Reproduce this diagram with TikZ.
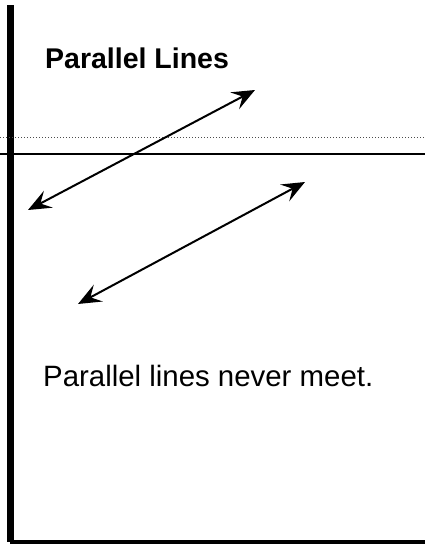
\documentclass[tikz,border=0pt]{standalone}
\usepackage{fontspec}
\setmainfont{Liberation Sans}
\usetikzlibrary{arrows.meta}

\begin{document}
\begin{tikzpicture}[
      x=1pt, y=-1pt,
      heading/.style={
          anchor=base west, inner sep=0pt,
          font=\fontsize{28.5}{32}\selectfont\bfseries
      },
      caption/.style={
          anchor=base west, inner sep=0pt,
          font=\fontsize{29.4}{33}\selectfont
      },
      parline/.style={
          line width=2pt,
          arrows={Stealth[length=23pt, width=19pt, inset=9pt]-Stealth[length=23pt, width=19pt, inset=9pt]}
      }
  ]
    \useasboundingbox (0,0) rectangle (425,546);

    % Frame (left and bottom edges)
    \coordinate (top) at (10,5);
    \coordinate (corner) at (10,542);
    \coordinate (right) at (425,542);
    \draw[line width=7pt] (top) -- (corner);
    \draw[line width=4pt] (corner) -- (right);

    % Horizontal reference lines
    \coordinate (h1l) at (0,154);
    \coordinate (h1r) at (425,154);
    \draw[line width=1.5pt] (h1l) -- (h1r);
    \coordinate (h2l) at (0,137);
    \coordinate (h2r) at (425,137);
    \draw[black!70, line width=1pt, dotted] (h2l) -- (h2r);

    % Texts
    \node[heading] (title) at (45,68) {Parallel Lines};
    \node[caption] (note) at (43,386) {Parallel lines never meet.};

    % First line
    \coordinate (a1) at (28,210);
    \coordinate (a2) at (255,90);
    \draw[parline] (a1) -- (a2);

    % Second line
    \coordinate (b1) at (78,304);
    \coordinate (b2) at (305,182);
    \draw[parline] (b1) -- (b2);
  \end{tikzpicture}
\end{document}
